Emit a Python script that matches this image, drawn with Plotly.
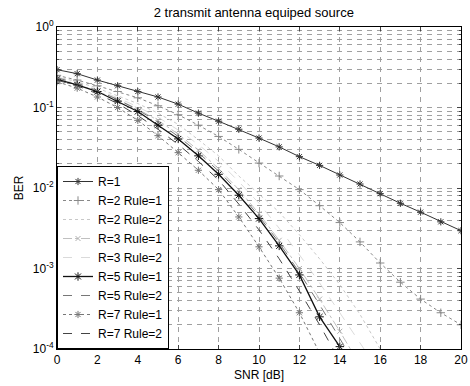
import plotly.graph_objects as go

snr = list(range(0, 21))

ber_r1 = [0.295, 0.263, 0.219, 0.186, 0.158, 0.135, 0.110, 0.0851, 0.0676, 0.0537, 0.0417,
          0.0324, 0.0245, 0.0191, 0.0145, 0.0112, 0.00851, 0.00646, 0.00501, 0.0038, 0.00295]
ber_r2_rule1 = [0.251, 0.219, 0.186, 0.158, 0.132, 0.105, 0.0813, 0.0603, 0.0437, 0.0302, 0.0204,
                0.0141, 0.00955, 0.00603, 0.00372, 0.00214, 0.00117, 0.000676, 0.000417, 0.000282, 0.0002]
ber_r2_rule2 = [0.240, 0.209, 0.174, 0.141, 0.112, 0.0851, 0.0617, 0.0398, 0.0251, 0.0141, 0.00851,
                0.00501, 0.00263, 0.00132, 0.000631, 0.000269, 0.0001]
ber_r3_rule1 = [0.229, 0.195, 0.158, 0.126, 0.0955, 0.0692, 0.0468, 0.0295, 0.0174, 0.00955, 0.00479,
                0.00224, 0.001, 0.000417, 0.000166, 0.0000631]
ber_r3_rule2 = [0.240, 0.204, 0.166, 0.132, 0.102, 0.0759, 0.0525, 0.0347, 0.0214, 0.012, 0.00646,
                0.00316, 0.00148, 0.000661, 0.000282, 0.00012, 0.0000501]
ber_r5_rule1 = [0.224, 0.191, 0.158, 0.120, 0.0891, 0.0603, 0.0407, 0.0251, 0.0148, 0.00813, 0.00417,
                0.00191, 0.000832, 0.000251, 0.000107]
ber_r5_rule2 = [0.234, 0.200, 0.162, 0.126, 0.0933, 0.0661, 0.0437, 0.0275, 0.0162, 0.00891, 0.00447,
                0.00209, 0.000891, 0.000355, 0.000135, 0.0000501]
ber_r7_rule1 = [0.209, 0.174, 0.135, 0.1, 0.0692, 0.0447, 0.0275, 0.0166, 0.00955, 0.00437, 0.00186,
                0.000759, 0.000282, 0.0000891]
ber_r7_rule2 = [0.219, 0.186, 0.148, 0.112, 0.0794, 0.0537, 0.0347, 0.0214, 0.0126, 0.00631, 0.00302,
                0.00132, 0.000525, 0.0002, 0.0000708]

names = ["R=1", "R=2 Rule=1", "R=2 Rule=2", "R=3 Rule=1", "R=3 Rule=2",
         "R=5 Rule=1", "R=5 Rule=2", "R=7 Rule=1", "R=7 Rule=2"]
series = [ber_r1, ber_r2_rule1, ber_r2_rule2, ber_r3_rule1, ber_r3_rule2,
          ber_r5_rule1, ber_r5_rule2, ber_r7_rule1, ber_r7_rule2]

styles = [
    dict(color="#333333", dash="solid", width=1.0, symbol="asterisk-open", msize=6),
    dict(color="#888888", dash="dot", width=1.0, symbol="cross-thin-open", msize=6),
    dict(color="#c8c8c8", dash="dot", width=1.0, symbol=None, msize=0),
    dict(color="#b0b0b0", dash="dashdot", width=0.8, symbol="x-thin-open", msize=5),
    dict(color="#d0d0d0", dash="dash", width=0.8, symbol=None, msize=0),
    dict(color="#111111", dash="solid", width=1.3, symbol="asterisk-open", msize=7),
    dict(color="#777777", dash="dash", width=1.0, symbol=None, msize=0),
    dict(color="#777777", dash="dot", width=1.0, symbol="asterisk-open", msize=6),
    dict(color="#444444", dash="dash", width=1.0, symbol=None, msize=0),
]

fig = go.Figure()
for name, vals, st in zip(names, series, styles):
    mode = "lines+markers" if st["symbol"] else "lines"
    marker = dict(symbol=st["symbol"], size=st["msize"], color=st["color"],
                  line=dict(width=1, color=st["color"])) if st["symbol"] else None
    fig.add_trace(go.Scatter(
        x=snr[:len(vals)], y=vals, name=name, mode=mode,
        line=dict(color=st["color"], dash=st["dash"], width=st["width"]),
        marker=marker,
    ))

ytick_vals = [1e-4, 1e-3, 1e-2, 1e-1, 1]
ytick_text = ["10<sup>-4</sup>", "10<sup>-3</sup>", "10<sup>-2</sup>", "10<sup>-1</sup>", "10<sup>0</sup>"]
xtick_vals = list(range(0, 21, 2))

grid_color = "#a0a0a0"
fig.update_layout(
    width=470, height=386,
    margin=dict(l=57, r=9, t=27, b=37),
    paper_bgcolor="white", plot_bgcolor="white",
    font=dict(family="Liberation Sans, Arial, sans-serif", size=12, color="black"),
    title=dict(text="2 transmit antenna equiped source", x=0.54, xref="container",
               xanchor="center", y=0.968, yref="container", yanchor="middle",
               font=dict(size=13)),
    showlegend=True,
    legend=dict(x=0, y=0, xanchor="left", yanchor="bottom", bgcolor="white",
                bordercolor="black", borderwidth=1, font=dict(size=12),
                tracegroupgap=0, itemwidth=30),
    xaxis=dict(range=[0, 20], tickvals=xtick_vals, ticks="inside", ticklen=4,
               showline=True, mirror="allticks", linecolor="black", linewidth=1,
               showgrid=True, gridcolor=grid_color, griddash="5px,5px", gridwidth=0.8,
               zeroline=False, automargin=False, tickfont=dict(size=12),
               title=dict(text="SNR [dB]", standoff=4, font=dict(size=12))),
    yaxis=dict(type="log", range=[-4, 0], tickvals=ytick_vals, ticktext=ytick_text,
               ticks="inside", ticklen=4, automargin=False, tickfont=dict(size=12),
               showline=True, mirror="allticks", linecolor="black", linewidth=1,
               showgrid=True, gridcolor=grid_color, griddash="5px,5px", gridwidth=0.8,
               zeroline=False,
               minor=dict(dtick="D1", showgrid=True, gridcolor=grid_color,
                          griddash="5px,5px", gridwidth=0.8, ticks="inside", ticklen=2),
               title=dict(text="BER", standoff=6, font=dict(size=12))),
)

fig.write_html("out.html", config={"displayModeBar": False},
               post_script="document.body.style.margin='0';document.body.style.overflow='hidden';")
